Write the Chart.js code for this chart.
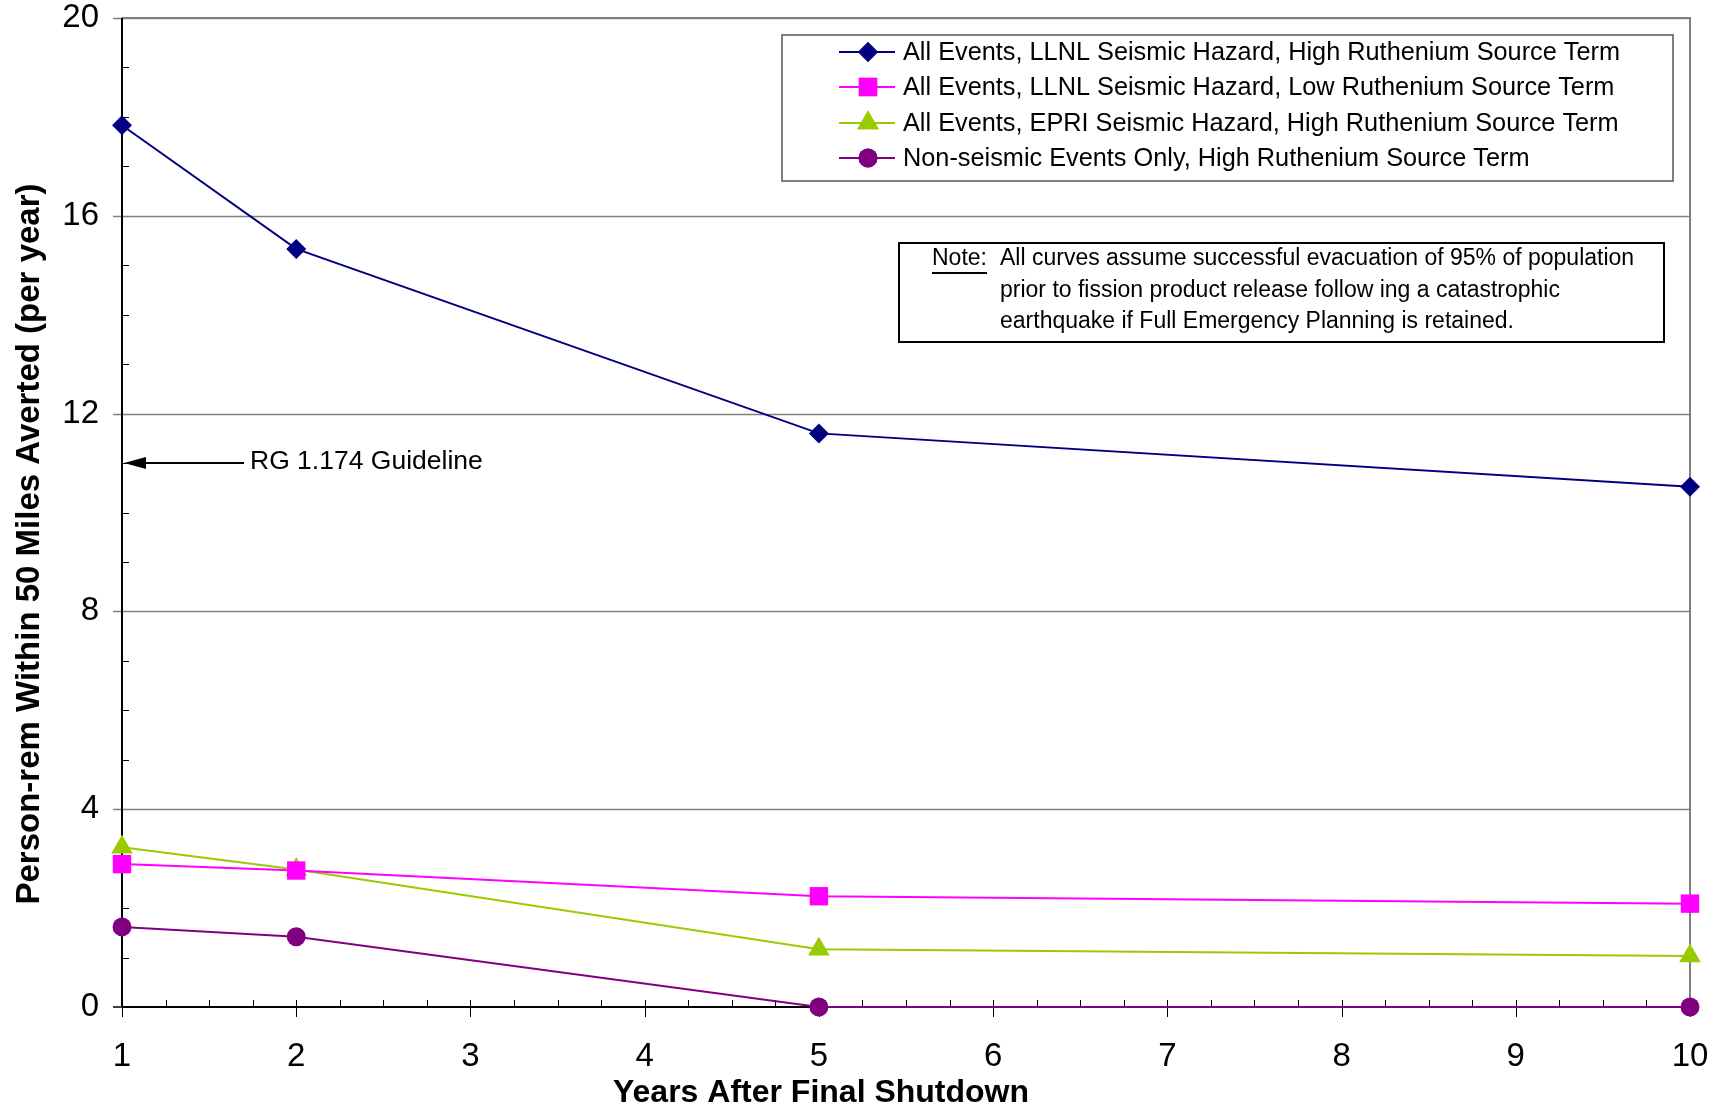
<!DOCTYPE html>
<html lang="en">
<head>
    <meta charset="UTF-8">
    <title>Person-rem Averted</title>
    <script src="https://cdn.jsdelivr.net/npm/chart.js"></script>
    <style>
        html, body { margin: 0; padding: 0; background: #fff; }
        #wrap { width: 1724px; height: 1110px; }
    </style>
</head>
<body>
    <div id="wrap"><canvas id="chart" width="1724" height="1110"></canvas></div>

    <script>
        // data
        const years = [1, 2, 5, 10];
        const llnlHigh = [17.83, 15.33, 11.6, 10.52];
        const llnlLow = [2.89, 2.76, 2.24, 2.09];
        const epriHigh = [3.23, 2.78, 1.17, 1.03];
        const nonSeismic = [1.62, 1.42, 0, 0];
        const seriesNames = [
            'All Events, LLNL Seismic Hazard, High Ruthenium Source Term',
            'All Events, LLNL Seismic Hazard, Low Ruthenium Source Term',
            'All Events, EPRI Seismic Hazard, High Ruthenium Source Term',
            'Non-seismic Events Only, High Ruthenium Source Term'
        ];
        const xTicks = [1, 2, 3, 4, 5, 6, 7, 8, 9, 10];
        const yTicks = [0, 4, 8, 12, 16, 20];
        const xTitle = 'Years After Final Shutdown';
        const yTitle = 'Person-rem Within 50 Miles Averted (per year)';
        const guidelineValue = 11;
        const guidelineText = 'RG 1.174 Guideline';
        const noteLines = [
            'All curves assume successful evacuation of 95% of population',
            'prior to fission product release follow ing a catastrophic',
            'earthquake if Full Emergency Planning is retained.'
        ];

        const FONT = '"Liberation Sans", Arial, sans-serif';

        function pts(vals) {
            return years.map((x, i) => ({ x: x, y: vals[i] }));
        }

        const datasets = [
            { label: seriesNames[0], data: pts(llnlHigh), borderColor: '#000080', backgroundColor: '#000080', pointStyle: 'rectRot', pointRadius: 10 },
            { label: seriesNames[1], data: pts(llnlLow), borderColor: '#ff00ff', backgroundColor: '#ff00ff', pointStyle: 'rect', pointRadius: 13 },
            { label: seriesNames[2], data: pts(epriHigh), borderColor: '#99cc00', backgroundColor: '#99cc00', pointStyle: 'triangle', pointRadius: 12.5 },
            { label: seriesNames[3], data: pts(nonSeismic), borderColor: '#800080', backgroundColor: '#800080', pointStyle: 'circle', pointRadius: 9.5 }
        ].map(d => Object.assign(d, { borderWidth: 2, tension: 0, pointBorderWidth: 0, clip: false }));

        // axes, ticks, frame, titles, legend, note and arrow
        const decorations = {
            id: 'decorations',
            beforeDatasetsDraw(chart) {
                const ctx = chart.ctx;
                const xs = chart.scales.x, ys = chart.scales.y;
                const a = chart.chartArea;
                ctx.save();
                // gridlines
                ctx.strokeStyle = '#808080';
                ctx.lineWidth = 1.5;
                yTicks.forEach(v => {
                    if (v === 0) return;
                    const y = Math.round(ys.getPixelForValue(v)) + 0.5;
                    ctx.beginPath(); ctx.moveTo(a.left - 9, y); ctx.lineTo(a.right, y); ctx.stroke();
                });
                // frame top + right
                ctx.lineWidth = 2;
                ctx.beginPath(); ctx.moveTo(a.left, a.top); ctx.lineTo(a.right, a.top); ctx.lineTo(a.right, a.bottom); ctx.stroke();
                // y minor ticks
                ctx.strokeStyle = '#000';
                ctx.lineWidth = 1;
                for (let v = 1; v < 20; v++) {
                    if (v % 4 === 0) continue;
                    const y = Math.round(ys.getPixelForValue(v)) + 0.5;
                    ctx.beginPath(); ctx.moveTo(a.left, y); ctx.lineTo(a.left + 7, y); ctx.stroke();
                }
                // x ticks
                for (let v = 1; v <= 10; v += 0.25) {
                    const x = Math.round(xs.getPixelForValue(v)) + 0.5;
                    const major = Number.isInteger(v);
                    ctx.beginPath(); ctx.moveTo(x, a.bottom - 7); ctx.lineTo(x, a.bottom + (major ? 10 : 0)); ctx.stroke();
                }
                // axis lines
                ctx.lineWidth = 2;
                ctx.strokeStyle = '#000';
                ctx.beginPath(); ctx.moveTo(a.left, a.top); ctx.lineTo(a.left, a.bottom); ctx.lineTo(a.right, a.bottom); ctx.stroke();
                ctx.strokeStyle = '#404040';
                ctx.beginPath(); ctx.moveTo(a.left - 9, a.bottom); ctx.lineTo(a.left, a.bottom); ctx.stroke();

                // axis titles
                ctx.fillStyle = '#000';
                ctx.font = 'bold 32px ' + FONT;
                ctx.textAlign = 'center';
                ctx.textBaseline = 'middle';
                ctx.fillText(xTitle, 821, 1093);
                ctx.font = 'bold 33px ' + FONT;
                ctx.translate(30, 544);
                ctx.rotate(-Math.PI / 2);
                ctx.fillText(yTitle, 0, 0);
                ctx.restore();
            },
            afterDraw(chart) {
                const ctx = chart.ctx;
                const xs = chart.scales.x, ys = chart.scales.y;
                ctx.save();

                // guideline arrow
                const tipX = xs.getPixelForValue(1) + 2;
                const tipY = ys.getPixelForValue(guidelineValue);
                ctx.strokeStyle = '#000';
                ctx.fillStyle = '#000';
                ctx.lineWidth = 2;
                ctx.beginPath(); ctx.moveTo(tipX + 15, tipY); ctx.lineTo(tipX + 120, tipY); ctx.stroke();
                ctx.beginPath(); ctx.moveTo(tipX, tipY); ctx.lineTo(tipX + 22, tipY - 6); ctx.lineTo(tipX + 22, tipY + 6); ctx.closePath(); ctx.fill();
                ctx.font = '26.5px ' + FONT;
                ctx.textBaseline = 'middle';
                ctx.fillText(guidelineText, tipX + 126, tipY - 1);

                // legend box
                const lx = 782, ly = 35, lw = 891, lh = 146;
                ctx.fillStyle = '#fff';
                ctx.fillRect(lx, ly, lw, lh);
                ctx.strokeStyle = '#555';
                ctx.lineWidth = 1.5;
                ctx.strokeRect(lx, ly, lw, lh);
                const rowY = [52, 87, 123, 158];
                chart.data.datasets.forEach((d, i) => {
                    const y = rowY[i];
                    ctx.strokeStyle = d.borderColor;
                    ctx.lineWidth = 2;
                    ctx.beginPath(); ctx.moveTo(839, y); ctx.lineTo(895, y); ctx.stroke();
                    ctx.fillStyle = d.backgroundColor;
                    Chart.helpers.drawPoint(ctx, { pointStyle: d.pointStyle, radius: d.pointRadius, rotation: 0, borderWidth: 0 }, 868, y);
                    ctx.fill();
                    ctx.fillStyle = '#000';
                    ctx.font = '25.3px ' + FONT;
                    ctx.textBaseline = 'middle';
                    ctx.fillText(d.label, 903, y + 1);
                });

                // note box
                const nx = 899, ny = 243, nw = 765, nh = 99;
                ctx.fillStyle = '#fff';
                ctx.fillRect(nx, ny, nw, nh);
                ctx.strokeStyle = '#000';
                ctx.lineWidth = 2;
                ctx.strokeRect(nx, ny, nw, nh);
                ctx.fillStyle = '#000';
                ctx.font = '23px ' + FONT;
                ctx.textBaseline = 'middle';
                ctx.fillText('Note:', 932, 259);
                const nwid = ctx.measureText('Note:').width;
                ctx.fillRect(932, 272, nwid, 2);
                const noteY = [259, 291, 322];
                noteLines.forEach((t, i) => ctx.fillText(t, 1000, noteY[i]));

                ctx.restore();
            }
        };

        new Chart(document.getElementById('chart'), {
            type: 'line',
            data: { datasets: datasets },
            options: {
                responsive: false,
                animation: false,
                layout: { padding: { left: 0, right: 34, top: 18, bottom: 0 } },
                plugins: { legend: { display: false }, tooltip: { enabled: false } },
                scales: {
                    x: {
                        type: 'linear',
                        min: 1, max: 10,
                        afterBuildTicks: s => { s.ticks = xTicks.map(v => ({ value: v })); },
                        afterFit: s => { s.height = 103; s.paddingLeft = 0; s.paddingRight = 0; },
                        grid: { display: false, drawTicks: false },
                        border: { display: false },
                        ticks: { color: '#000', font: { family: FONT, size: 33, lineHeight: 1 }, padding: 33, maxRotation: 0 }
                    },
                    y: {
                        min: 0, max: 20,
                        afterBuildTicks: s => { s.ticks = yTicks.map(v => ({ value: v })); },
                        afterFit: s => { s.width = 122; s.paddingTop = 0; s.paddingBottom = 0; },
                        grid: { display: false, drawTicks: false },
                        border: { display: false },
                        ticks: { color: '#000', font: { family: FONT, size: 33, lineHeight: 1 }, padding: 23 }
                    }
                }
            },
            plugins: [decorations]
        });
    </script>
</body>
</html>
